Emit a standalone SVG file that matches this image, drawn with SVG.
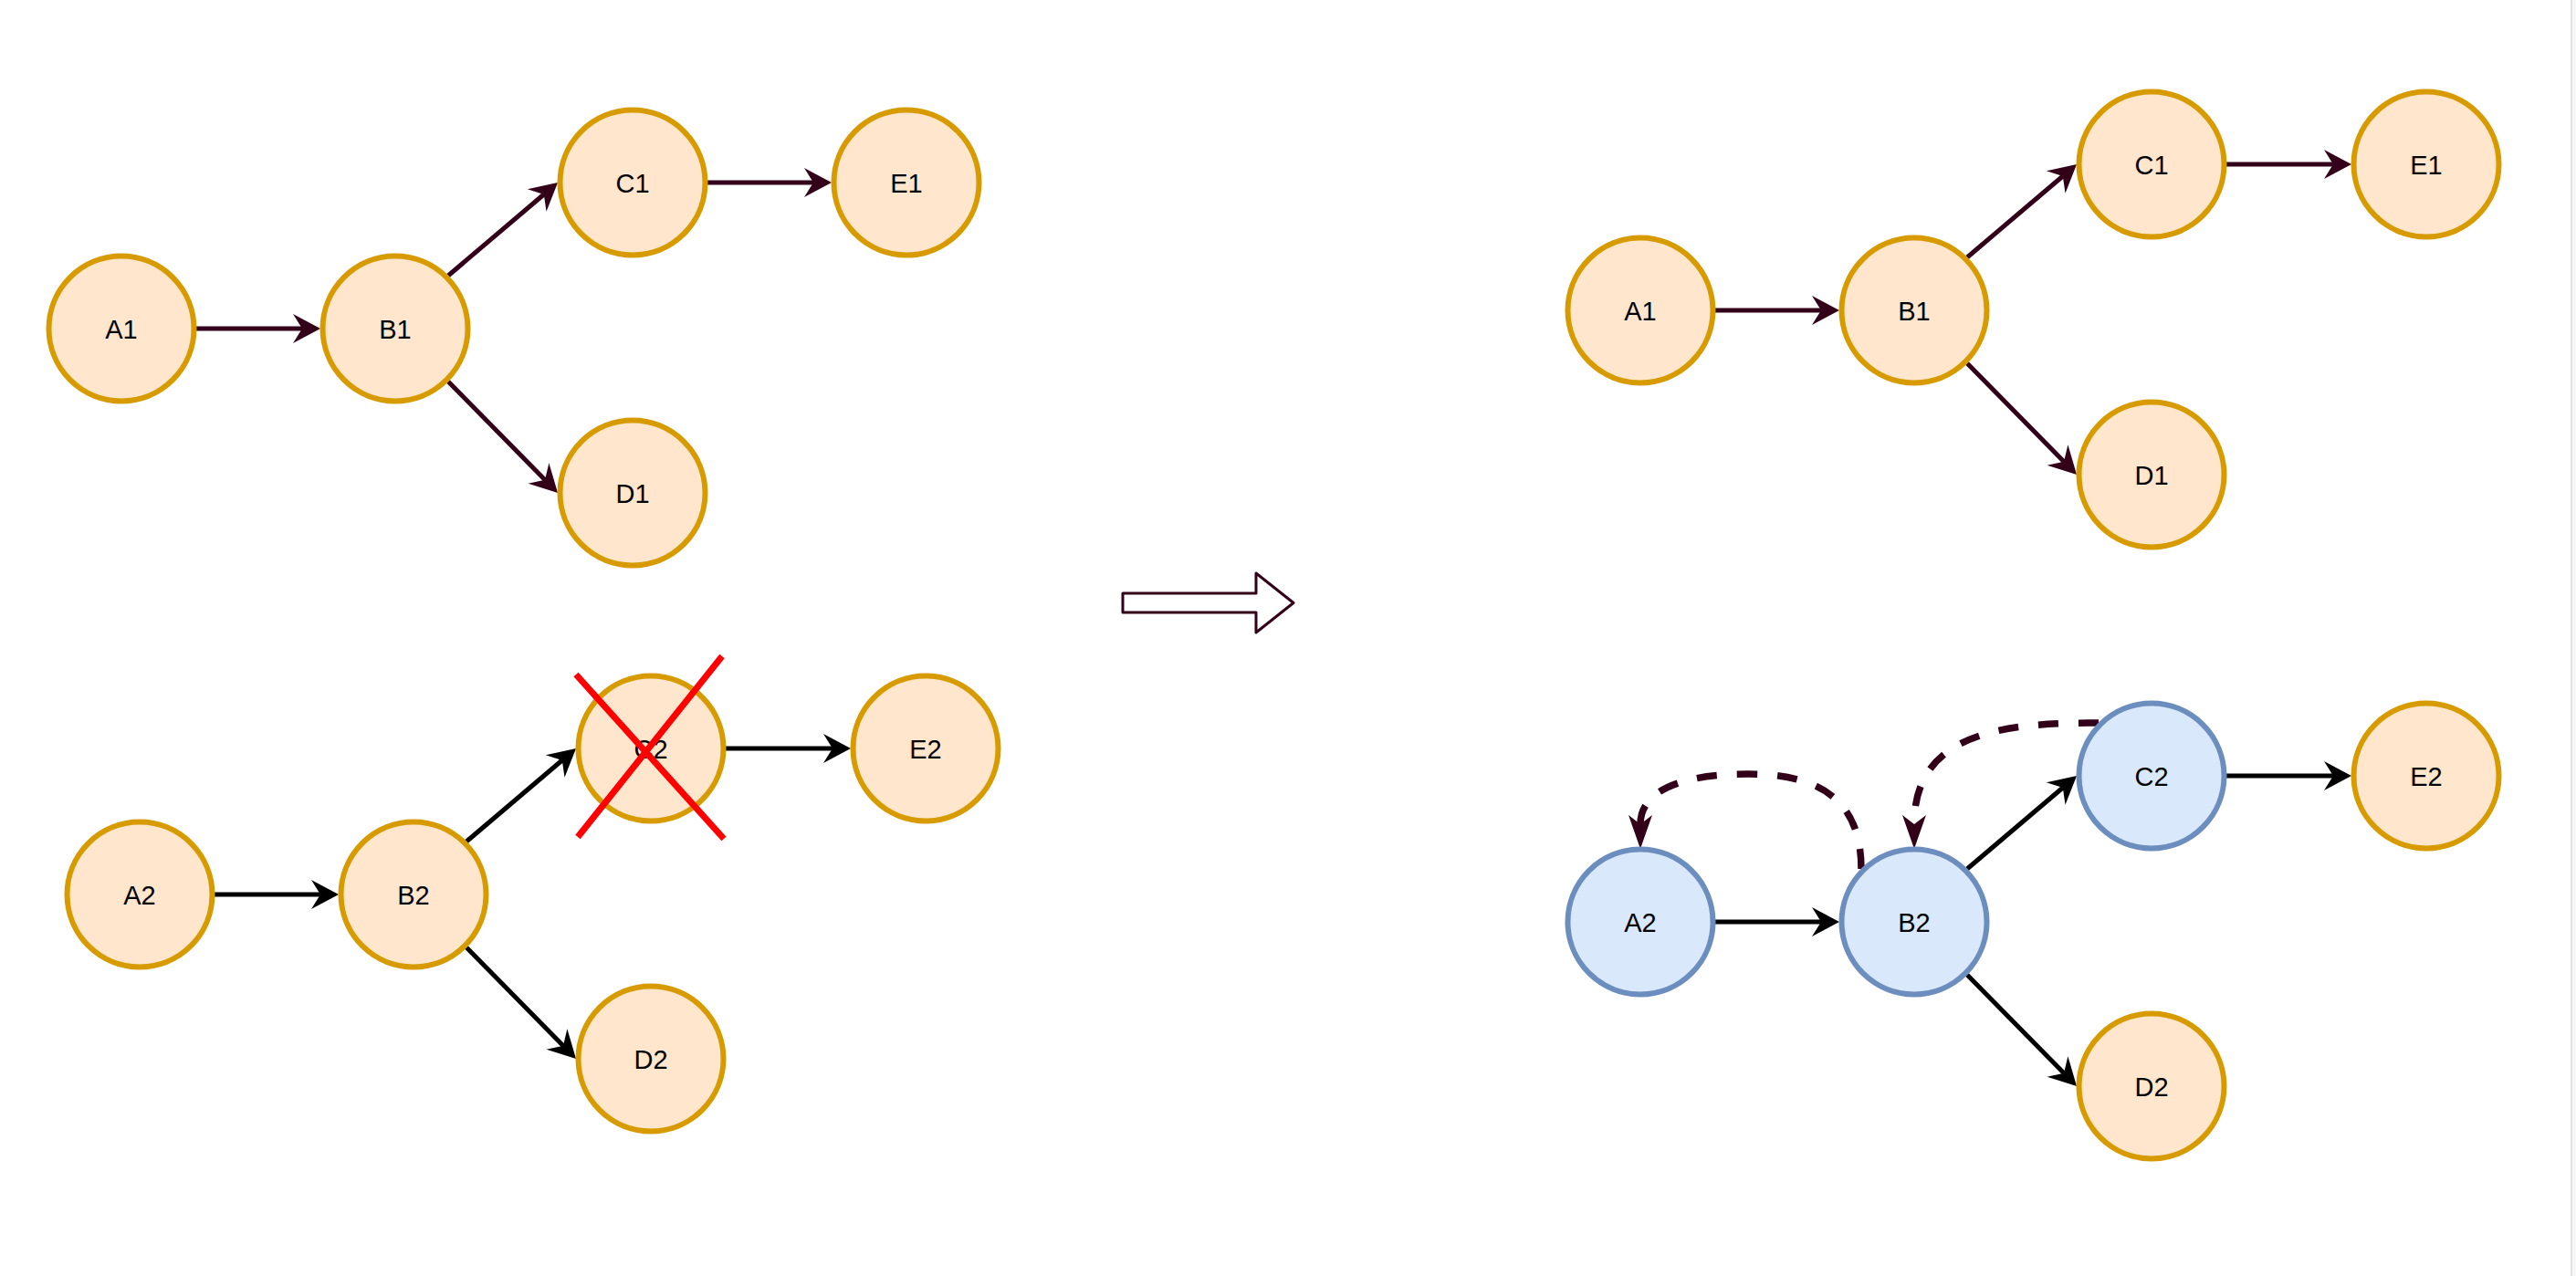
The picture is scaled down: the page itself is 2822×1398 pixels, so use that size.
<svg xmlns="http://www.w3.org/2000/svg" width="2822" height="1398" viewBox="0 0 2822 1398">
<style>
.o{fill:#ffe6cc;stroke:#d79b00;stroke-width:6}
.b{fill:#dae8fc;stroke:#6c8ebf;stroke-width:6}
.t{font-family:"Liberation Sans",Arial,sans-serif;font-size:29px;fill:#000;text-anchor:middle}
.m{stroke:#330019;stroke-width:5;fill:none}
.k{stroke:#000;stroke-width:5;fill:none}
.d{stroke:#330019;stroke-width:7.5;fill:none;stroke-dasharray:22 22}
.x{stroke:#ff0000;stroke-width:7}
</style>
<defs>
<marker id="am" viewBox="-12 -18 34 36" markerWidth="34" markerHeight="36" refX="0" refY="0" orient="auto" markerUnits="userSpaceOnUse"><path d="M20,0 L-10,-16 L0,0 L-10,16 Z" fill="#330019"/></marker>
<marker id="ak" viewBox="-12 -18 34 36" markerWidth="34" markerHeight="36" refX="0" refY="0" orient="auto" markerUnits="userSpaceOnUse"><path d="M20,0 L-10,-16 L0,0 L-10,16 Z" fill="#000"/></marker>
<marker id="ad" viewBox="-12 -15 41 30" markerWidth="41" markerHeight="30" refX="0" refY="0" orient="auto" markerUnits="userSpaceOnUse"><path d="M27,0 L-10,-13 L0,0 L-10,13 Z" fill="#330019"/></marker>
</defs>
<rect width="2822" height="1398" fill="#ffffff"/>
<rect x="2816" y="0" width="2" height="1398" fill="#e3e3e3"/>
<rect x="2818" y="0" width="4" height="1398" fill="#f6f6f6"/>

<g id="connectors">
<path class="m" marker-end="url(#am)" d="M215,360 L331,360"/>
<path class="m" marker-end="url(#am)" d="M491,302 L595.8,213"/>
<path class="m" marker-end="url(#am)" d="M491,418 L597,525.7"/>
<path class="m" marker-end="url(#am)" d="M775,200 L891,200"/>
<path class="k" marker-end="url(#ak)" d="M235,980 L351,980"/>
<path class="k" marker-end="url(#ak)" d="M511,922 L615.8,833"/>
<path class="k" marker-end="url(#ak)" d="M511,1038 L617,1145.7"/>
<path class="k" marker-end="url(#ak)" d="M795,820 L912,820"/>
<path class="m" marker-end="url(#am)" d="M1879,340 L1995,340"/>
<path class="m" marker-end="url(#am)" d="M2155,282 L2259.8,193"/>
<path class="m" marker-end="url(#am)" d="M2155,398 L2261,505.7"/>
<path class="m" marker-end="url(#am)" d="M2439,180 L2556,180"/>
<path class="k" marker-end="url(#ak)" d="M1879,1010 L1995,1010"/>
<path class="k" marker-end="url(#ak)" d="M2155,952 L2259.8,863"/>
<path class="k" marker-end="url(#ak)" d="M2155,1068 L2261,1175.7"/>
<path class="k" marker-end="url(#ak)" d="M2439,850 L2556,850"/>
<path class="d" marker-end="url(#ad)" d="M2039,952 C2039,870 1985,848 1915,848 C1845,848 1797,865 1797,903"/>
<path class="d" marker-end="url(#ad)" d="M2299,792 C2200,792 2097,800 2097,903"/>
</g>

<g id="A1"><circle class="o" cx="133" cy="360" r="79.5"/><text class="t" x="133" y="370.5">A1</text></g>
<g id="B1"><circle class="o" cx="433" cy="360" r="79.5"/><text class="t" x="433" y="370.5">B1</text></g>
<g id="C1"><circle class="o" cx="693" cy="200" r="79.5"/><text class="t" x="693" y="210.5">C1</text></g>
<g id="E1"><circle class="o" cx="993" cy="200" r="79.5"/><text class="t" x="993" y="210.5">E1</text></g>
<g id="D1"><circle class="o" cx="693" cy="540" r="79.5"/><text class="t" x="693" y="550.5">D1</text></g>

<g id="A2"><circle class="o" cx="153" cy="980" r="79.5"/><text class="t" x="153" y="990.5">A2</text></g>
<g id="B2"><circle class="o" cx="453" cy="980" r="79.5"/><text class="t" x="453" y="990.5">B2</text></g>
<g id="C2"><circle class="o" cx="713" cy="820" r="79.5"/><text class="t" x="713" y="830.5">C2</text></g>
<g id="E2"><circle class="o" cx="1014" cy="820" r="79.5"/><text class="t" x="1014" y="830.5">E2</text></g>
<g id="D2"><circle class="o" cx="713" cy="1160" r="79.5"/><text class="t" x="713" y="1170.5">D2</text></g>
<g id="cross"><line class="x" x1="631" y1="739" x2="793" y2="919"/><line class="x" x1="791" y1="719" x2="633" y2="917"/></g>

<g id="bigArrow"><path d="M1230,650 L1376,650 L1376,628 L1417,660.5 L1376,693 L1376,671 L1230,671 Z" fill="#ffffff" stroke="#330019" stroke-width="3" stroke-linejoin="round"/></g>

<g id="rA1"><circle class="o" cx="1797" cy="340" r="79.5"/><text class="t" x="1797" y="350.5">A1</text></g>
<g id="rB1"><circle class="o" cx="2097" cy="340" r="79.5"/><text class="t" x="2097" y="350.5">B1</text></g>
<g id="rC1"><circle class="o" cx="2357" cy="180" r="79.5"/><text class="t" x="2357" y="190.5">C1</text></g>
<g id="rE1"><circle class="o" cx="2658" cy="180" r="79.5"/><text class="t" x="2658" y="190.5">E1</text></g>
<g id="rD1"><circle class="o" cx="2357" cy="520" r="79.5"/><text class="t" x="2357" y="530.5">D1</text></g>

<g id="rA2"><circle class="b" cx="1797" cy="1010" r="79.5"/><text class="t" x="1797" y="1020.5">A2</text></g>
<g id="rB2"><circle class="b" cx="2097" cy="1010" r="79.5"/><text class="t" x="2097" y="1020.5">B2</text></g>
<g id="rC2"><circle class="b" cx="2357" cy="850" r="79.5"/><text class="t" x="2357" y="860.5">C2</text></g>
<g id="rE2"><circle class="o" cx="2658" cy="850" r="79.5"/><text class="t" x="2658" y="860.5">E2</text></g>
<g id="rD2"><circle class="o" cx="2357" cy="1190" r="79.5"/><text class="t" x="2357" y="1200.5">D2</text></g>
</svg>
